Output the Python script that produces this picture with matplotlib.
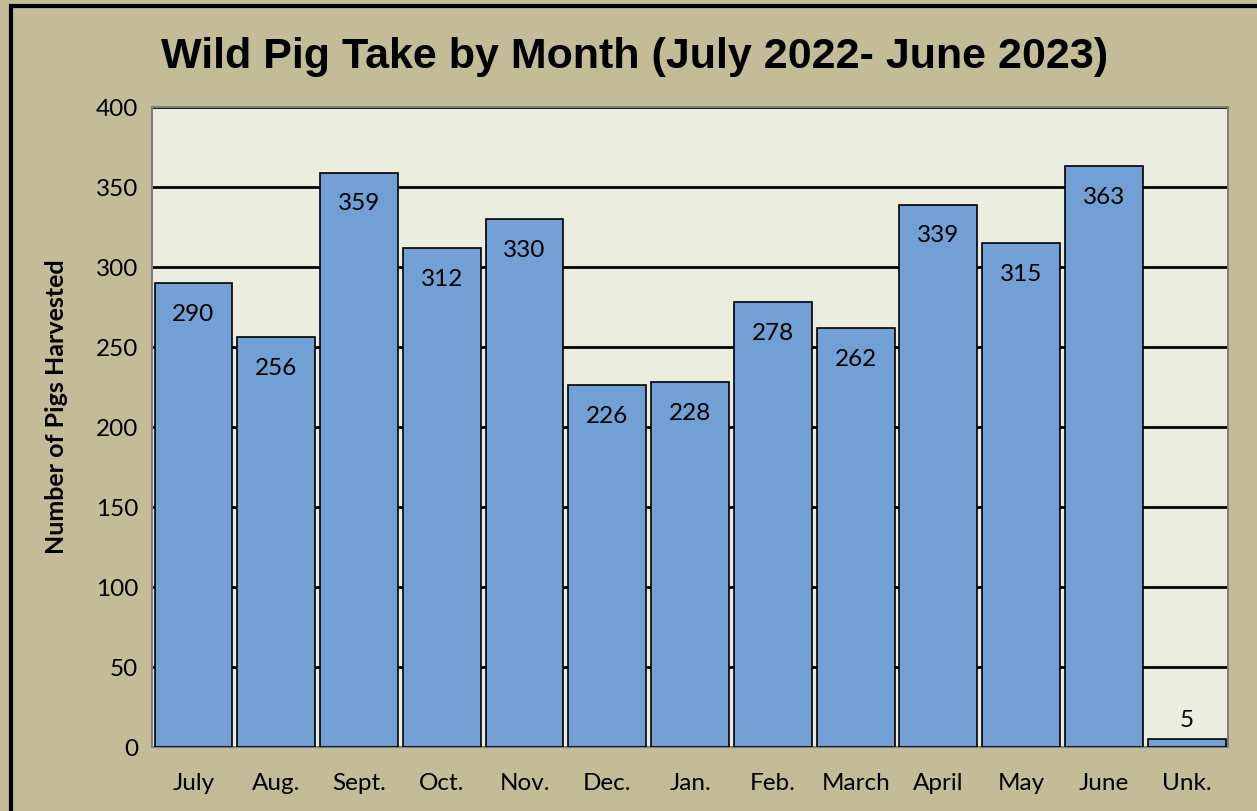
import matplotlib.pyplot as plt
from matplotlib.patches import Rectangle

months = ["July", "Aug.", "Sept.", "Oct.", "Nov.", "Dec.", "Jan.",
          "Feb.", "March", "April", "May", "June", "Unk."]
pigs = [290, 256, 359, 312, 330, 226, 228, 278, 262, 339, 315, 363, 5]
yticks = [0, 50, 100, 150, 200, 250, 300, 350, 400]

bg = "#C4BC98"
plot_bg = "#EBEEDF"
bar_col = "#729FD4"
body_font = ["Lato", "DejaVu Sans"]

fig = plt.figure(figsize=(12.57, 8.12), dpi=100, facecolor=bg)
ax = fig.add_axes([0.121, 0.079, 0.856, 0.788])
ax.set_facecolor(plot_bg)

x = range(len(months))
bars = ax.bar(x, pigs, width=0.94, color=bar_col, edgecolor="black",
              linewidth=1.2, zorder=3)

for xi, v in zip(x, pigs):
    if v > 40:
        ax.text(xi, v - 19, str(v), ha="center", va="center",
                fontsize=17.5, family=body_font, zorder=4)
    else:
        ax.text(xi, v + 12, str(v), ha="center", va="center",
                fontsize=17.5, family=body_font, zorder=4)

ax.set_xlim(-0.5, len(months) - 0.5)
ax.set_ylim(0, 400)
ax.set_yticks(yticks)
ax.set_xticks(list(x))
ax.set_xticklabels(months, fontsize=17.5, family=body_font)
ax.set_yticklabels([str(t) for t in yticks], fontsize=17.5, family=body_font)
ax.tick_params(length=0, pad=10)
ax.tick_params(axis="x", pad=18)
ax.yaxis.grid(True, color="black", linewidth=2, zorder=1)
ax.set_axisbelow(True)
for s in ax.spines.values():
    s.set_color("#808080")
    s.set_linewidth(1.5)

ax.set_ylabel("Number of Pigs Harvested", fontsize=18, fontweight="bold",
              family=body_font)
ax.yaxis.set_label_coords(-0.078, 0.533)

fig.text(0.505, 0.930, "Wild Pig Take by Month (July 2022- June 2023)",
         ha="center", va="center", fontsize=31, fontweight="bold",
         family=["Liberation Sans", "DejaVu Sans"])

fig.patches.append(Rectangle((0.009, -0.1), 1.2, 1.091, transform=fig.transFigure,
                             fill=False, edgecolor="black", linewidth=3))

fig.savefig("out.png", dpi=100, facecolor=bg)
